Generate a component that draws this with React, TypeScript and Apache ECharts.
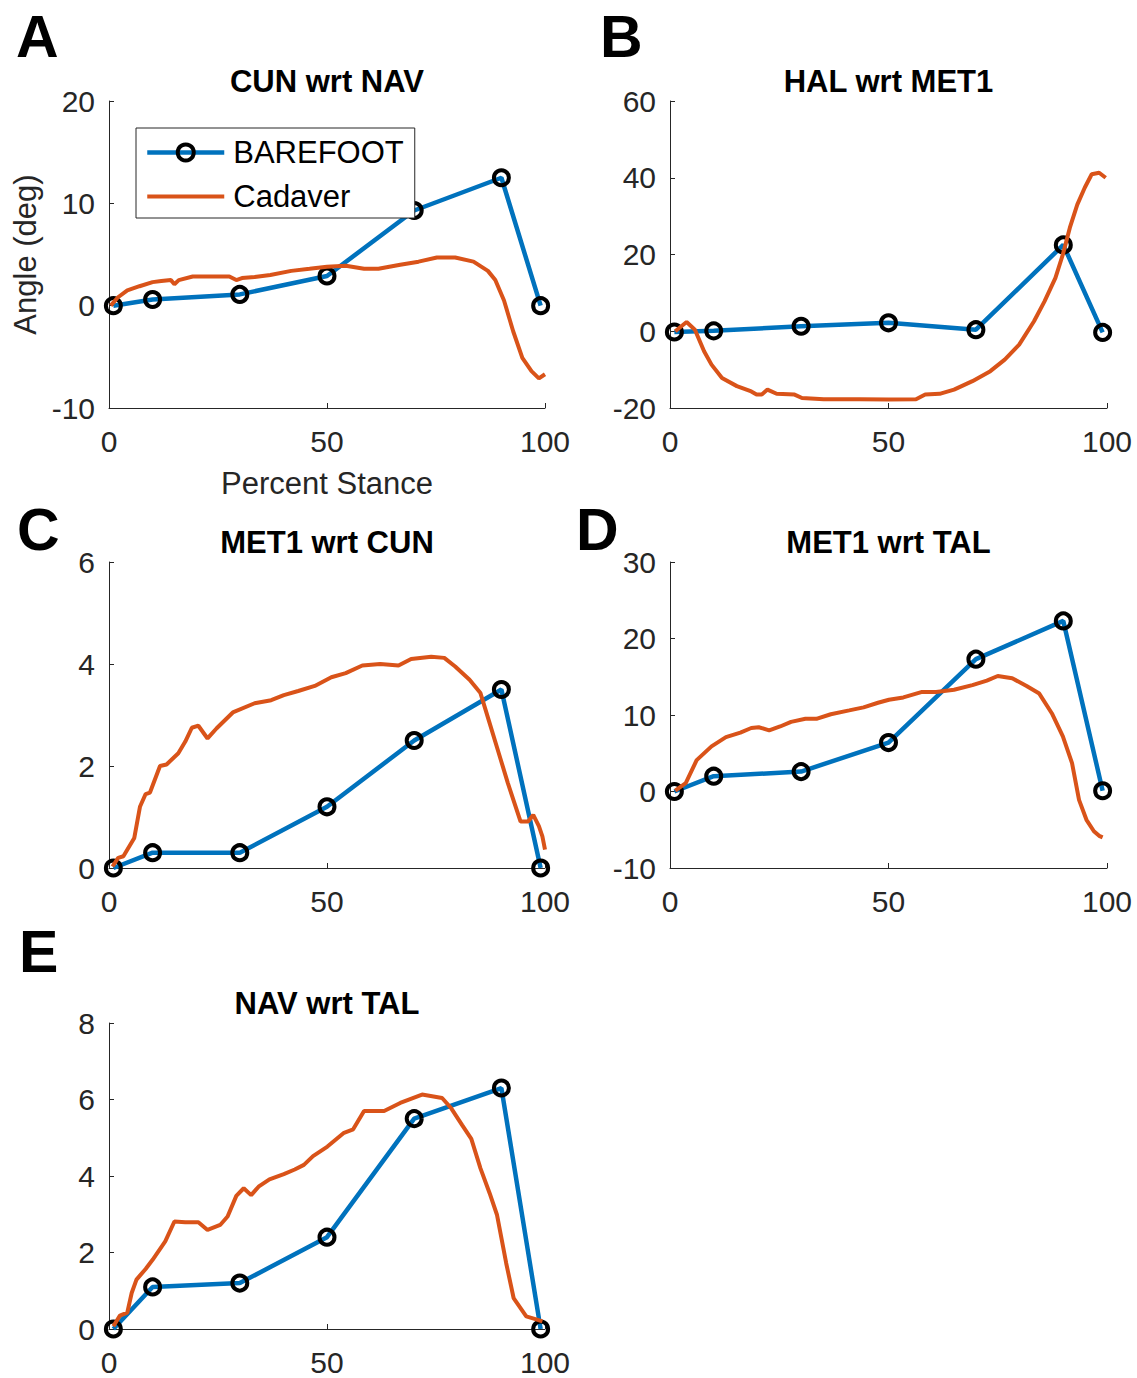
import React, { useEffect, useRef } from 'react';
import * as echarts from 'echarts';

// Percent stance at which BAREFOOT values were sampled
const barefootX = [1, 10, 30, 50, 70, 90, 99];

// A: CUN wrt NAV
const cunNavBarefoot = [0, 0.6, 1.1, 2.9, 9.3, 12.5, 0];
const cunNavCadaverX = [0.4, 2, 4.2, 7, 10, 12, 14.2, 15, 16, 19.2, 23, 27.6, 29.2, 30.5, 33.4, 37, 41.8, 46, 50, 54.3, 58.5, 61.8, 66.8, 71, 75.2, 79.4, 83.6, 86.9, 88.6, 90.6, 92.7, 94.8, 96.9, 98.6, 100];
const cunNavCadaverY = [0, 0.8, 1.5, 1.9, 2.3, 2.4, 2.5, 2.1, 2.5, 2.85, 2.85, 2.85, 2.5, 2.7, 2.8, 3.0, 3.4, 3.6, 3.8, 3.9, 3.6, 3.6, 4.0, 4.3, 4.7, 4.7, 4.3, 3.4, 2.5, 0.5, -2.5, -5.1, -6.4, -7.1, -6.7];

// B: HAL wrt MET1
const halMet1Barefoot = [-0.2, 0.1, 1.3, 2.2, 0.4, 22.5, -0.3];
const halMet1CadaverX = [1.2, 3.8, 5.7, 7.8, 9.5, 11.9, 15.3, 18.6, 19.8, 21, 22.3, 24.4, 28.5, 30.2, 35.2, 43.4, 50, 56.3, 58.4, 61.7, 65, 69.2, 73.3, 76.6, 79.9, 83.3, 85.7, 88.2, 89.9, 91.5, 93.2, 94.9, 96.5, 98.2, 99.7];
const halMet1CadaverY = [0, 2.4, 0.4, -5.2, -8.7, -12.2, -14.3, -15.7, -16.5, -16.5, -15.2, -16.3, -16.5, -17.4, -17.7, -17.7, -17.8, -17.7, -16.5, -16.3, -15.2, -13, -10.4, -7.4, -3.5, 2.6, 7.8, 13.9, 20, 27, 33, 37.4, 40.9, 41.3, 40];

// C: MET1 wrt CUN
const met1CunBarefoot = [0, 0.3, 0.3, 1.2, 2.5, 3.5, 0];
const met1CunCadaverX = [0.8, 2.1, 3.3, 5.8, 7.1, 8.4, 9.4, 11.7, 13.2, 15.9, 17.5, 19, 20.5, 22.6, 24.7, 28.4, 33.4, 37.2, 40.1, 43.4, 47.2, 51, 54.3, 58.1, 62.2, 66.4, 69.3, 73.9, 76.9, 79.4, 82.7, 85.2, 87.3, 89.4, 91.5, 94.4, 96.1, 97.3, 98.6, 99.4, 100];
const met1CunCadaverY = [0.03, 0.2, 0.23, 0.59, 1.2, 1.45, 1.48, 2.0, 2.03, 2.25, 2.48, 2.75, 2.79, 2.54, 2.74, 3.05, 3.23, 3.29, 3.39, 3.47, 3.57, 3.74, 3.82, 3.97, 4.0, 3.97, 4.1, 4.14, 4.12, 3.95, 3.69, 3.43, 2.84, 2.25, 1.66, 0.91, 0.91, 1.04, 0.82, 0.62, 0.36];

// D: MET1 wrt TAL
const met1TalBarefoot = [0, 2.0, 2.6, 6.4, 17.3, 22.3, 0.1];
const met1TalCadaverX = [1.2, 3.6, 6.1, 9.5, 12.8, 16.1, 18.6, 20.3, 22.7, 25.2, 27.7, 31, 33.5, 36.8, 41, 44.3, 47.6, 50.1, 53.4, 57.5, 60.9, 65, 69.2, 72.5, 75, 78.3, 81.6, 84.5, 87.4, 89.9, 92, 93.6, 95.3, 97, 98.2, 99];
const met1TalCadaverY = [0.1, 1.1, 4.1, 5.9, 7.1, 7.7, 8.3, 8.4, 8.0, 8.5, 9.1, 9.5, 9.5, 10.1, 10.6, 11.0, 11.6, 12.0, 12.3, 13.0, 13.0, 13.3, 13.9, 14.5, 15.1, 14.8, 13.8, 12.8, 10.2, 7.2, 3.7, -1.1, -3.7, -5.2, -5.8, -6.0];

// E: NAV wrt TAL
const navTalBarefoot = [0, 1.1, 1.2, 2.4, 5.5, 6.3, 0];
const navTalCadaverX = [1, 2.5, 4.2, 5.2, 6.3, 8.4, 10, 12.9, 15, 17.5, 20.5, 22.6, 25.5, 27.2, 29.2, 30.9, 32.6, 34.3, 36.8, 40.1, 42.6, 44.7, 46.8, 50.1, 53.9, 56, 58.5, 63.1, 66.8, 71.8, 76.4, 78.5, 81, 83.1, 85.2, 87.3, 89, 91.1, 92.8, 95.7, 97.8, 99.4];
const navTalCadaverY = [0.07, 0.35, 0.43, 0.94, 1.29, 1.57, 1.81, 2.29, 2.81, 2.79, 2.79, 2.59, 2.72, 2.94, 3.48, 3.68, 3.5, 3.72, 3.91, 4.05, 4.17, 4.29, 4.52, 4.77, 5.13, 5.22, 5.7, 5.7, 5.91, 6.13, 6.04, 5.77, 5.33, 4.97, 4.2, 3.55, 2.98, 1.72, 0.81, 0.33, 0.26, 0.2];

const xTicks = { min: 0, max: 100, interval: 50 };
const panelTitles = ['CUN wrt NAV', 'HAL wrt MET1', 'MET1 wrt CUN', 'MET1 wrt TAL', 'NAV wrt TAL'];
const panelLetters = ['A', 'B', 'C', 'D', 'E'];
const yRanges = [
  { min: -10, max: 20, interval: 10 },
  { min: -20, max: 60, interval: 20 },
  { min: 0, max: 6, interval: 2 },
  { min: -10, max: 30, interval: 10 },
  { min: 0, max: 8, interval: 2 },
];
const barefootSets = [cunNavBarefoot, halMet1Barefoot, met1CunBarefoot, met1TalBarefoot, navTalBarefoot];
const cadaverXSets = [cunNavCadaverX, halMet1CadaverX, met1CunCadaverX, met1TalCadaverX, navTalCadaverX];
const cadaverYSets = [cunNavCadaverY, halMet1CadaverY, met1CunCadaverY, met1TalCadaverY, navTalCadaverY];

const FONT = '"Liberation Sans", Arial, Helvetica, sans-serif';
const AXIS_COLOR = '#262626';
const BLUE = '#0072BD';
const ORANGE = '#D95319';
const BLUE_W = 4.5;
const ORANGE_W = 4;

// layout (pixels)
const grids = [
  { left: 109, top: 101, width: 436, height: 307 },
  { left: 670, top: 101, width: 437, height: 307 },
  { left: 109, top: 562, width: 436, height: 306 },
  { left: 670, top: 562, width: 437, height: 306 },
  { left: 109, top: 1023, width: 436, height: 306 },
];
const letterPos = [
  [16, 37],
  [600, 37],
  [17, 530],
  [576, 530],
  [19, 952],
];

function buildOption() {
  const xAxis: any[] = [];
  const yAxis: any[] = [];
  const series: any[] = [];
  const graphic: any[] = [];

  grids.forEach((g, i) => {
    xAxis.push({
      type: 'value',
      gridIndex: i,
      min: xTicks.min,
      max: xTicks.max,
      interval: xTicks.interval,
      axisLine: { onZero: false, lineStyle: { color: AXIS_COLOR, width: 1 } },
      axisTick: { inside: true, length: 5, lineStyle: { color: AXIS_COLOR } },
      axisLabel: { color: AXIS_COLOR, fontSize: 30, fontFamily: FONT, margin: 18 },
      splitLine: { show: false },
      ...(i === 0
        ? {
            name: 'Percent Stance',
            nameLocation: 'middle',
            nameGap: 75,
            nameTextStyle: { color: AXIS_COLOR, fontSize: 31, fontFamily: FONT, verticalAlign: 'middle' },
          }
        : {}),
    });
    yAxis.push({
      type: 'value',
      gridIndex: i,
      min: yRanges[i].min,
      max: yRanges[i].max,
      interval: yRanges[i].interval,
      axisLine: { show: true, onZero: false, lineStyle: { color: AXIS_COLOR, width: 1 } },
      axisTick: { show: true, inside: true, length: 5, lineStyle: { color: AXIS_COLOR } },
      axisLabel: { color: AXIS_COLOR, fontSize: 30, fontFamily: FONT, margin: 14 },
      splitLine: { show: false },
      ...(i === 0
        ? {
            name: 'Angle (deg)',
            nameLocation: 'middle',
            nameRotate: 90,
            nameGap: 84,
            nameTextStyle: { color: AXIS_COLOR, fontSize: 31, fontFamily: FONT, verticalAlign: 'middle' },
          }
        : {}),
    });
    series.push({
      name: 'BAREFOOT',
      type: 'line',
      xAxisIndex: i,
      yAxisIndex: i,
      data: barefootX.map((x, k) => [x, barefootSets[i][k]]),
      symbol: 'circle',
      symbolSize: 15,
      showAllSymbol: true,
      lineStyle: { color: BLUE, width: BLUE_W },
      itemStyle: { color: 'rgba(0,0,0,0)', borderColor: '#000', borderWidth: 4 },
      emphasis: { disabled: true },
      z: 2,
    });
    series.push({
      name: 'Cadaver',
      type: 'line',
      xAxisIndex: i,
      yAxisIndex: i,
      data: cadaverXSets[i].map((x, k) => [x, cadaverYSets[i][k]]),
      symbol: 'none',
      lineStyle: { color: ORANGE, width: ORANGE_W },
      itemStyle: { color: ORANGE },
      emphasis: { disabled: true },
      z: 3,
    });
    graphic.push({
      type: 'text',
      x: g.left + g.width / 2,
      y: g.top - 20,
      style: {
        text: panelTitles[i],
        font: `bold 31px ${FONT}`,
        fill: '#000',
        align: 'center',
        textAlign: 'center',
        verticalAlign: 'middle',
        textVerticalAlign: 'middle',
      },
    });
    graphic.push({
      type: 'text',
      x: letterPos[i][0],
      y: letterPos[i][1],
      style: {
        text: panelLetters[i],
        font: `bold 59px ${FONT}`,
        fill: '#000',
        align: 'left',
        textAlign: 'left',
        verticalAlign: 'middle',
        textVerticalAlign: 'middle',
      },
    });
  });

  return {
    animation: false,
    backgroundColor: '#fff',
    grid: grids.map((g) => ({ ...g, containLabel: false })),
    xAxis,
    yAxis,
    series,
    graphic,
    legend: {
      left: 136,
      top: 128,
      orient: 'vertical',
      selectedMode: false,
      data: [
        {
          name: 'BAREFOOT',
          itemStyle: { color: 'rgba(0,0,0,0)', borderColor: '#000', borderWidth: 4 },
          lineStyle: { color: BLUE, width: BLUE_W },
        },
        {
          name: 'Cadaver',
          itemStyle: { color: 'rgba(0,0,0,0)', borderColor: 'rgba(0,0,0,0)', borderWidth: 0 },
          lineStyle: { color: ORANGE, width: ORANGE_W },
        },
      ],
      itemWidth: 77,
      itemHeight: 20,
      itemGap: 13,
      padding: [9, 11, 6, 9],
      backgroundColor: '#fff',
      borderColor: AXIS_COLOR,
      borderWidth: 1,
      borderRadius: 0,
      textStyle: { fontSize: 31, color: '#000', fontFamily: FONT, lineHeight: 31, padding: [0, 0, 0, 4] },
      z: 10,
    },
  };
}

export default function App() {
  const ref = useRef<HTMLDivElement>(null);
  useEffect(() => {
    if (!ref.current) return;
    const chart = echarts.init(ref.current, undefined, { renderer: 'svg' });
    chart.setOption(buildOption() as any);
    return () => chart.dispose();
  }, []);
  return (
    <div
      ref={ref}
      style={{ position: 'absolute', left: 0, top: 0, width: 1137, height: 1378, background: '#fff' }}
    />
  );
}
